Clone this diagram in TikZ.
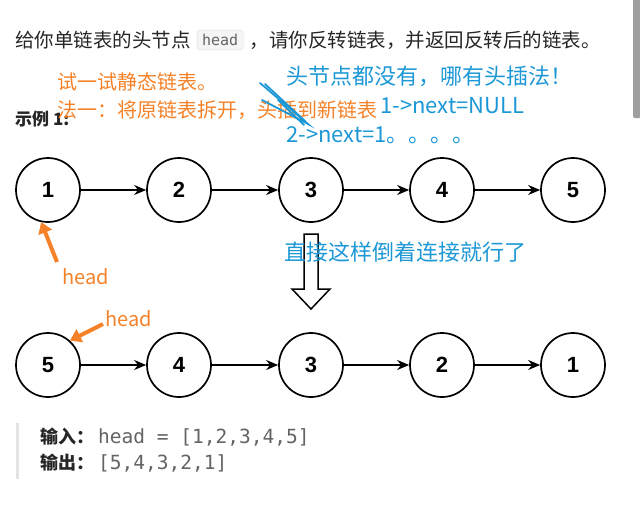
\documentclass[tikz,border=0pt]{standalone}
\usepackage{fontspec}
\usetikzlibrary{arrows.meta,positioning}
\newfontfamily\cjk{Noto Sans CJK SC}
\newfontfamily\digitfont{Liberation Sans}
\newfontfamily\codefont{DejaVu Sans Mono}

\definecolor{pen orange}{RGB}{245,130,40}
\definecolor{pen blue}{RGB}{28,152,214}
\definecolor{page text}{RGB}{38,38,38}
\definecolor{code text}{RGB}{100,100,100}
\colorlet{code back}{gray!8}
\colorlet{quote bar}{gray!22}

\tikzset{
  hollow/.style={draw=black, line width=1.5pt, fill=white},
  scribble/.style={draw=pen blue, line width=1.8pt, line cap=round}
  }
\tikzstyle{vertex}=[circle,draw,line width=1.7pt,minimum size=64pt,inner sep=0pt,font=\digitfont\bfseries\fontsize{22}{22}\selectfont]
\tikzstyle{link} = [draw, line width=1.5pt, -{Stealth[length=12pt,width=10pt]}]
\tikzstyle{pointer} = [draw, pen orange, line width=4pt, -{Triangle[length=11pt,width=14pt]}]
\tikzstyle{page line}=[anchor=west,inner sep=0pt,text=page text,font=\cjk\fontsize{19.5}{22}\selectfont]
\tikzstyle{orange note}=[anchor=west,inner sep=0pt,text=pen orange,font=\cjk\fontsize{20}{24}\selectfont]
\tikzstyle{blue note}=[anchor=west,inner sep=0pt,text=pen blue,font=\cjk\fontsize{22}{24}\selectfont]
\def\before{{48/1}, {179/2}, {311/3}, {442/4}, {573/5}}
\def\after{{48/5}, {179/4}, {311/3}, {442/2}, {573/1}}

\begin{document}
\begin{tikzpicture}[x=1pt,y=-1pt]

    % The page itself
    \fill[white] (0,0) rectangle (640,504);
    \useasboundingbox (0,0) rectangle (640,504);
    \fill[gray!75, rounded corners=2pt] (633,-4) rectangle (641,118);

    % The question
    \node[page line] (ask) at (15,40) {给你单链表的头节点};
    \node[right=6pt of ask, fill=code back, draw=gray!25, rounded corners=3pt,
          inner xsep=5pt, inner ysep=4pt, text=code text,
          font=\codefont\fontsize{15}{15}\selectfont] (headcode) {head};
    \node[page line, right=6pt of headcode] (rest) {，请你反转链表，并返回反转后的链表。};
    \node[page line, font=\cjk\bfseries\fontsize{17}{20}\selectfont] (example) at (15,119) {示例 1:};

    % The hand written notes
    \node[orange note] (try) at (57,82) {试一试静态链表。};
    \node[orange note] (way) at (57,110) {法一：将原链表拆开，头插到新链表};
    \node[blue note] (nohead) at (286,76) {头节点都没有，哪有头插法！};
    \node[blue note] (step1) at (380,106) {1->next=NULL};
    \node[blue note] (step2) at (286,135) {2->next=1。。。。};
    \path[scribble] (260,83) -- (308,124) -- (262,100);
    \path[scribble] (265,84) -- (305,121);
    \path[scribble] (278,100) -- (304,125);

    % The list before
    \foreach \x/\name in \before
      \node[vertex] (b\name) at (\x,190) {\name};
    \foreach \source/\sink in {b1/b2, b2/b3, b3/b4, b4/b5}
      \path[link] (\source) -- (\sink);

    % The big arrow down
    \path[hollow] (304,234) -- (318,234) -- (318,289) -- (330,289) -- (311,309)
      -- (292,289) -- (304,289) -- cycle;
    \node[blue note] (direct) at (284,252) {直接这样倒着连接就行了};

    % The list after
    \foreach \x/\name in \after
      \node[vertex] (a\name) at (\x,365) {\name};
    \foreach \source/\sink in {a5/a4, a4/a3, a3/a2, a2/a1}
      \path[link] (\source) -- (\sink);

    % Where head points
    \node[orange note] (head1) at (62,277) {head};
    \node[orange note] (head2) at (105,319) {head};
    \coordinate (tail1) at (57,262);
    \coordinate (tail2) at (103,324);
    \path[pointer] (tail1) -- (b1.258);
    \path[pointer] (tail2) -- (a5.48);

    % Input and output
    \draw[quote bar, line width=3pt] (17,423) -- (17,479);
    \node[page line, font=\cjk\bfseries\fontsize{18}{20}\selectfont] (inlabel) at (40,437) {输入：};
    \node[page line, text=code text, font=\codefont\fontsize{19.5}{20}\selectfont] (invalue) at (98,437) {head = [1,2,3,4,5]};
    \node[page line, font=\cjk\bfseries\fontsize{18}{20}\selectfont] (outlabel) at (40,463) {输出：};
    \node[page line, text=code text, font=\codefont\fontsize{19.5}{20}\selectfont] (outvalue) at (98,463) {[5,4,3,2,1]};
\end{tikzpicture}
\end{document}
